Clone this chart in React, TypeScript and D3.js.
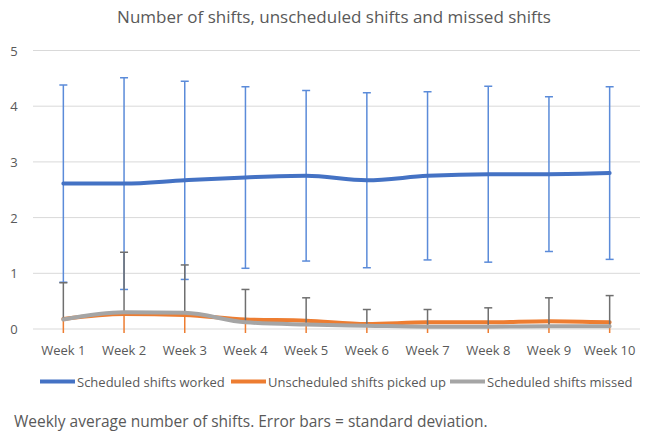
import { useEffect, useRef } from "react";
import * as d3 from "d3";

// ─── Data ─────────────────────────────────────────────────────────────────────

const WEEKS = ["Week 1", "Week 2", "Week 3", "Week 4", "Week 5", "Week 6", "Week 7", "Week 8", "Week 9", "Week 10"];

const WORKED = [2.61, 2.61, 2.67, 2.72, 2.75, 2.67, 2.75, 2.78, 2.78, 2.8];
const WORKED_SD = [1.77, 1.9, 1.78, 1.63, 1.53, 1.57, 1.51, 1.58, 1.39, 1.55];

const PICKED = [0.18, 0.27, 0.25, 0.17, 0.15, 0.09, 0.12, 0.12, 0.14, 0.12];
const PICKED_SD = [0.6, 0.6, 0.6, 0.5, 0.5, 0.4, 0.4, 0.4, 0.5, 0.5];

const MISSED = [0.17, 0.3, 0.29, 0.12, 0.08, 0.06, 0.04, 0.04, 0.05, 0.05];
const MISSED_SD = [0.66, 1.08, 0.86, 0.59, 0.48, 0.29, 0.31, 0.34, 0.51, 0.55];

const Y_TICKS = [0, 1, 2, 3, 4, 5];

const TITLE = "Number of shifts, unscheduled shifts and missed shifts";
const CAPTION = "Weekly average number of shifts. Error bars = standard deviation.";

// ─── Palette ──────────────────────────────────────────────────────────────────

const BLUE = "#4472C4";
const BLUE_ERR = "#5B8BD9";
const ORANGE = "#ED7D31";
const GREY = "#A5A5A5";
const GREY_ERR = "#6F6F6F";
const TEXT = "#595959";
const GRID = "#D9D9D9";
const FONT = "'Open Sans', sans-serif";

export default function App() {
  const svgRef = useRef<SVGSVGElement>(null);

  useEffect(() => {
    if (!svgRef.current) return;
    const W = 649,
      H = 433;
    const m = { top: 50.5, right: 9, bottom: 104, left: 33 };
    const iw = W - m.left - m.right;
    const ih = H - m.top - m.bottom;

    const svg = d3.select(svgRef.current);
    svg.selectAll("*").remove();

    svg
      .append("text")
      .attr("x", 334)
      .attr("y", 23)
      .attr("text-anchor", "middle")
      .attr("font-size", 17)
      .attr("fill", TEXT)
      .attr("font-family", FONT)
      .text(TITLE);

    const x = d3.scaleBand().domain(WEEKS).range([0, iw]);
    const y = d3.scaleLinear().domain([0, 5]).range([ih, 0]);
    const cx = (i: number) => x(WEEKS[i])! + x.bandwidth() / 2;

    const g = svg.append("g").attr("transform", `translate(${m.left},${m.top})`);

    // grid
    g.selectAll(".grid")
      .data(Y_TICKS)
      .join("line")
      .attr("x1", 0)
      .attr("x2", iw)
      .attr("y1", (d) => y(d))
      .attr("y2", (d) => y(d))
      .attr("stroke", GRID)
      .attr("stroke-width", 1);

    g.selectAll(".ytick")
      .data(Y_TICKS)
      .join("text")
      .attr("x", -19)
      .attr("y", (d) => y(d) + 5)
      .attr("text-anchor", "middle")
      .attr("font-size", 13)
      .attr("fill", TEXT)
      .attr("font-family", FONT)
      .text((d) => d);

    g.append("g")
      .attr("transform", `translate(0,${ih})`)
      .call(d3.axisBottom(x).tickSize(0).tickPadding(17))
      .call((ax) => {
        ax.select(".domain").remove();
        ax.selectAll(".tick text")
          .attr("fill", TEXT)
          .attr("font-size", 13)
          .attr("font-family", FONT);
      });

    // clip a few px below zero like Excel's plot area
    svg
      .append("clipPath")
      .attr("id", "plotclip")
      .append("rect")
      .attr("x", -10)
      .attr("y", -10)
      .attr("width", iw + 20)
      .attr("height", ih + 14);

    const clipped = g.append("g").attr("clip-path", "url(#plotclip)");

    const line = d3
      .line<number>()
      .x((_, i) => cx(i))
      .y((d) => y(d))
      .curve(d3.curveMonotoneX);

    const errBars = (
      vals: number[],
      sds: number[],
      color: string,
      width: number,
      up: boolean,
      down: boolean,
    ) => {
      const eg = clipped.append("g");
      vals.forEach((v, i) => {
        const top = up ? v + sds[i] : v;
        const bot = down ? v - sds[i] : v;
        eg.append("line")
          .attr("x1", cx(i))
          .attr("x2", cx(i))
          .attr("y1", y(top))
          .attr("y2", y(bot))
          .attr("stroke", color)
          .attr("stroke-width", width);
        [up ? top : null, down ? bot : null].forEach((e) => {
          if (e === null) return;
          eg.append("line")
            .attr("x1", cx(i) - 4)
            .attr("x2", cx(i) + 4)
            .attr("y1", y(e))
            .attr("y2", y(e))
            .attr("stroke", color)
            .attr("stroke-width", width);
        });
      });
    };

    const series = [
      { vals: WORKED, sds: WORKED_SD, color: BLUE, err: BLUE_ERR, up: true, down: true },
      { vals: PICKED, sds: PICKED_SD, color: ORANGE, err: ORANGE, up: false, down: true },
      { vals: MISSED, sds: MISSED_SD, color: GREY, err: GREY_ERR, up: true, down: false },
    ];

    series.forEach((s) => {
      errBars(s.vals, s.sds, s.err, 1.5, s.up, s.down);
      clipped
        .append("path")
        .datum(s.vals)
        .attr("d", line)
        .attr("fill", "none")
        .attr("stroke", s.color)
        .attr("stroke-width", 4)
        .attr("stroke-linejoin", "round")
        .attr("stroke-linecap", "round");
    });

    // legend
    const legend = [
      { label: "Scheduled shifts worked", color: BLUE, x: 40 },
      { label: "Unscheduled shifts picked up", color: ORANGE, x: 231 },
      { label: "Scheduled shifts missed", color: GREY, x: 450 },
    ];
    legend.forEach((l) => {
      svg
        .append("line")
        .attr("x1", l.x)
        .attr("x2", l.x + 35)
        .attr("y1", 381.5)
        .attr("y2", 381.5)
        .attr("stroke", l.color)
        .attr("stroke-width", 4);
      svg
        .append("text")
        .attr("x", l.x + 37)
        .attr("y", 386.5)
        .attr("font-size", 13)
        .attr("fill", TEXT)
        .attr("font-family", FONT)
        .text(l.label);
    });

    svg
      .append("text")
      .attr("x", 14)
      .attr("y", 427)
      .attr("font-size", 15.5)
      .attr("fill", TEXT)
      .attr("font-family", FONT)
      .text(CAPTION);
  }, []);

  return (
    <div style={{ position: "absolute", left: 0, top: 0, background: "#fff" }}>
      <svg ref={svgRef} width={649} height={433} style={{ display: "block" }} />
    </div>
  );
}
